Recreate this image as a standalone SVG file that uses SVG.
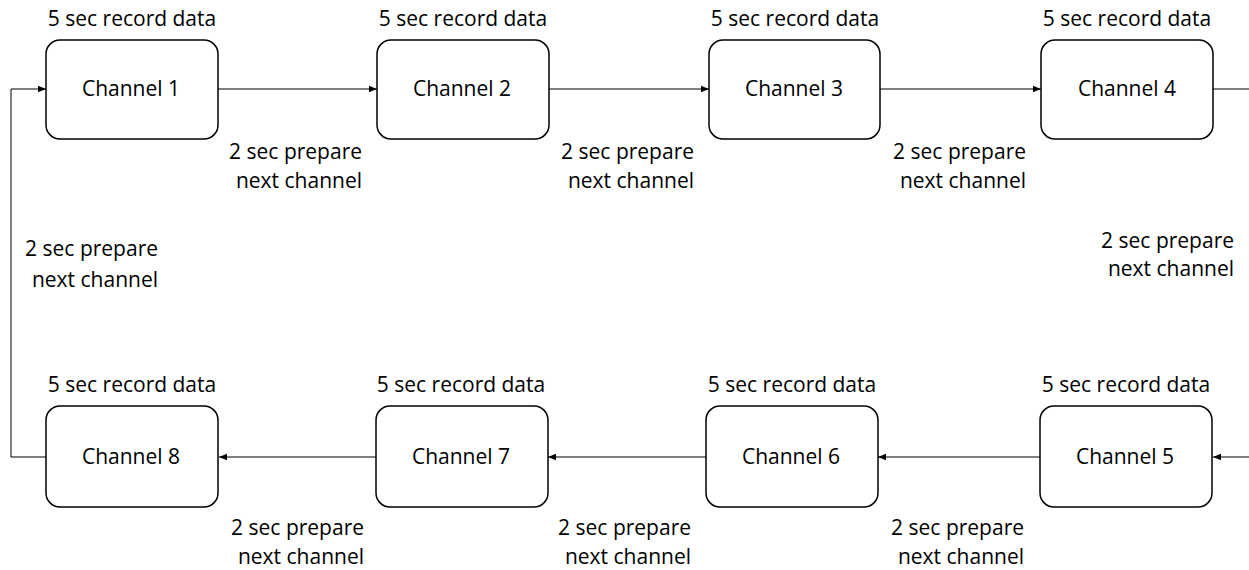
<svg xmlns="http://www.w3.org/2000/svg" width="1249" height="570" viewBox="0 0 1249 570">
<style>
.box{fill:#fff;stroke:#000;stroke-width:1.5}
.t{font-family:"Open Sans","Noto Sans",sans-serif;font-size:21px;fill:#000}
.m{text-anchor:middle}
.e{text-anchor:end}
.c{fill:none;stroke:#000;stroke-width:1}
</style>
<defs>
<marker id="ah" viewBox="0 0 10 10" refX="10" refY="5" markerWidth="8" markerHeight="8" markerUnits="userSpaceOnUse" orient="auto">
<path d="M0,1 L10,5 L0,9 z" fill="#000"/>
</marker>
</defs>
<g id="connectors">
<path class="c" d="M218,89 H377" marker-end="url(#ah)"/>
<path class="c" d="M549,89 H709" marker-end="url(#ah)"/>
<path class="c" d="M880,89 H1041" marker-end="url(#ah)"/>
<path class="c" d="M1213,89 H1249"/>
<path class="c" d="M1249,457 H1213" marker-end="url(#ah)"/>
<path class="c" d="M1041,457 H878" marker-end="url(#ah)"/>
<path class="c" d="M706,457 H548" marker-end="url(#ah)"/>
<path class="c" d="M376,457 H219" marker-end="url(#ah)"/>
<path class="c" d="M46,457 H11 V89 H46" marker-end="url(#ah)"/>
<text class="t e" x="362" y="159">2 sec prepare</text>
<text class="t e" x="362" y="188">next channel</text>
<text class="t e" x="694" y="159">2 sec prepare</text>
<text class="t e" x="694" y="188">next channel</text>
<text class="t e" x="1026" y="159">2 sec prepare</text>
<text class="t e" x="1026" y="188">next channel</text>
<text class="t e" x="1234" y="248">2 sec prepare</text>
<text class="t e" x="1234" y="276">next channel</text>
<text class="t e" x="158" y="256">2 sec prepare</text>
<text class="t e" x="158" y="287">next channel</text>
<text class="t e" x="364" y="535">2 sec prepare</text>
<text class="t e" x="364" y="564">next channel</text>
<text class="t e" x="691" y="535">2 sec prepare</text>
<text class="t e" x="691" y="564">next channel</text>
<text class="t e" x="1024" y="535">2 sec prepare</text>
<text class="t e" x="1024" y="564">next channel</text>
</g>
<g id="ch1"><rect class="box" x="46" y="40" width="172" height="99" rx="14"/><text class="t m" x="132" y="26">5 sec record data</text><text class="t m" x="131" y="96">Channel 1</text></g>
<g id="ch2"><rect class="box" x="377" y="40" width="172" height="99" rx="14"/><text class="t m" x="463" y="26">5 sec record data</text><text class="t m" x="462" y="96">Channel 2</text></g>
<g id="ch3"><rect class="box" x="709" y="40" width="171" height="99" rx="14"/><text class="t m" x="795" y="26">5 sec record data</text><text class="t m" x="794" y="96">Channel 3</text></g>
<g id="ch4"><rect class="box" x="1041" y="40" width="172" height="99" rx="14"/><text class="t m" x="1127" y="26">5 sec record data</text><text class="t m" x="1127" y="96">Channel 4</text></g>
<g id="ch5"><rect class="box" x="1040" y="406" width="172" height="101" rx="14"/><text class="t m" x="1126" y="392">5 sec record data</text><text class="t m" x="1125" y="464">Channel 5</text></g>
<g id="ch6"><rect class="box" x="706" y="406" width="172" height="101" rx="14"/><text class="t m" x="792" y="392">5 sec record data</text><text class="t m" x="791" y="464">Channel 6</text></g>
<g id="ch7"><rect class="box" x="376" y="406" width="172" height="101" rx="14"/><text class="t m" x="461" y="392">5 sec record data</text><text class="t m" x="461" y="464">Channel 7</text></g>
<g id="ch8"><rect class="box" x="46" y="406" width="172" height="101" rx="14"/><text class="t m" x="132" y="392">5 sec record data</text><text class="t m" x="131" y="464">Channel 8</text></g>
</svg>
